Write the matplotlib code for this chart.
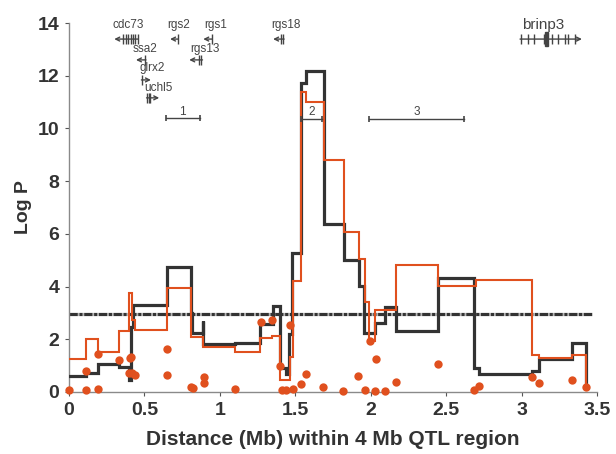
import matplotlib
matplotlib.use("Agg")
import matplotlib.pyplot as plt
import numpy as np

plt.rcParams['font.family'] = ['Liberation Sans', 'DejaVu Sans']

# ---------------- data ----------------
# black (dark) step series: edges (Mb) and values (Log P)
black_edges = [0, 0.11, 0.19, 0.33, 0.40, 0.41, 0.426, 0.647, 0.806, 0.815, 0.885, 0.89,
               1.10, 1.265, 1.35, 1.40, 1.44, 1.46, 1.48, 1.535, 1.574, 1.69, 1.82, 1.92,
               1.956, 2.026, 2.093, 2.166, 2.445, 2.687, 2.716, 3.07, 3.116, 3.336, 3.43]
black_vals = [0.61, 0.72, 1.05, 0.95, 0.45, 2.48, 3.3, 4.73, 3.0, 2.22, 2.69, 1.82,
              1.87, 2.58, 3.27, 0.92, 0.68, 2.2, 5.27, 11.71, 12.17, 6.37, 5.0, 4.02,
              2.24, 2.6, 3.22, 2.31, 4.34, 0.9, 0.67, 0.8, 1.26, 1.87, 0.15]

# orange step series
orange_edges = [0, 0.11, 0.195, 0.33, 0.40, 0.42, 0.437, 0.65, 0.806, 0.89, 1.10, 1.265,
                1.345, 1.40, 1.465, 1.486, 1.538, 1.574, 1.69, 1.82, 1.92, 1.96, 1.99,
                2.03, 2.165, 2.445, 2.70, 3.07, 3.116, 3.336, 3.43]
orange_vals = [1.25, 2.0, 1.5, 2.32, 3.74, 2.74, 2.36, 3.96, 2.1, 1.72, 1.53, 2.06,
               2.14, 0.47, 1.34, 4.22, 11.37, 10.99, 8.82, 6.08, 5.03, 3.43, 1.95,
               3.11, 4.82, 4.03, 4.25, 1.40, 1.30, 1.40, 0.15]

# single-marker points
dot_x = [0.0, 0.11, 0.11, 0.19, 0.19, 0.33, 0.404, 0.41, 0.40, 0.42, 0.44, 0.647, 0.647,
         0.806, 0.823, 0.894, 0.894, 1.10, 1.27, 1.344, 1.397, 1.464, 1.41, 1.437, 1.486,
         1.535, 1.574, 1.685, 1.817, 1.919, 1.96, 1.993, 2.033, 2.026, 2.097, 2.166,
         2.446, 2.684, 2.715, 3.07, 3.115, 3.333, 3.43]
dot_y = [0.07, 0.8, 0.07, 1.45, 0.1, 1.21, 1.28, 1.32, 0.71, 0.72, 0.64, 1.62, 0.63,
         0.18, 0.14, 0.58, 0.35, 0.1, 2.64, 2.73, 1.0, 2.54, 0.07, 0.07, 0.1,
         0.29, 0.67, 0.18, 0.04, 0.61, 0.07, 1.93, 1.25, 0.04, 0.04, 0.37,
         1.07, 0.07, 0.24, 0.58, 0.35, 0.47, 0.18]

threshold = 2.96
threshold_span = [0, 3.47]

# genes: name, start, end, strand, row y, exon positions, label x, label y
gene_names  = ['cdc73', 'rgs2', 'rgs1', 'rgs18', 'ssa2', 'rgs13', 'glrx2', 'uchl5', 'brinp3']
gene_start  = [0.30, 0.67, 0.89, 1.353, 0.444, 0.797, 0.48, 0.514, 2.99]
gene_end    = [0.46, 0.724, 0.95, 1.426, 0.51, 0.885, 0.543, 0.598, 3.40]
gene_strand = [-1, -1, -1, -1, -1, -1, 1, 1, 1]
gene_row    = [13.39, 13.39, 13.39, 13.39, 12.6, 12.6, 11.84, 11.16, 13.39]
gene_exons  = [[0.36, 0.375, 0.39, 0.41, 0.425, 0.44, 0.455],
               [0.72], [0.945], [1.405, 1.42], [0.505], [0.86, 0.875],
               [0.485], [0.52, 0.53, 0.54],
               [2.995, 3.04, 3.08, 3.15, 3.16, 3.17, 3.20, 3.24, 3.29, 3.31, 3.355]]
label_x     = [0.393, 0.724, 0.97, 1.44, 0.503, 0.90, 0.554, 0.59, 3.14]
label_y     = [13.92, 13.92, 13.92, 13.92, 13.0, 13.0, 12.28, 11.52, 13.92]
label_size  = [8.5, 8.5, 8.5, 8.5, 8.5, 8.5, 8.5, 8.5, 11]

# intervals
interval_names = ['1', '2', '3']
interval_start = [0.64, 1.54, 1.99]
interval_end   = [0.867, 1.68, 2.62]
interval_y     = [10.38, 10.36, 10.36]

x_ticks = [0, 0.5, 1, 1.5, 2, 2.5, 3, 3.5]
x_tick_labels = ['0', '0.5', '1', '1.5', '2', '2.5', '3', '3.5']
y_ticks = [0, 2, 4, 6, 8, 10, 12, 14]
x_label = 'Distance (Mb) within 4 Mb QTL region'
y_label = 'Log P'

# ---------------- plot ----------------
DARK = '#333333'
ORANGE = '#e0501e'
GREY = '#444444'

fig = plt.figure(figsize=(6.16, 4.54), dpi=100)
ax = fig.add_axes([69/616, 1 - 392/454, (597-69)/616, (392-23)/454])

# threshold
ax.plot(threshold_span, [threshold, threshold], color=DARK, lw=2.3,
        dashes=[2.6, 0.5, 1.0, 0.5], gapcolor='#b5b5b5', zorder=2)

ax.step(black_edges, black_vals, where='post', color=DARK, lw=2.3, zorder=3,
        solid_joinstyle='miter')
ax.step(orange_edges, orange_vals, where='post', color=ORANGE, lw=1.5, zorder=4,
        solid_joinstyle='miter')

ax.scatter(dot_x, dot_y, s=36, color=ORANGE, zorder=5, clip_on=False, linewidths=0)

# genes
for name, s, e, st, yr, ex, lx, ly, fs in zip(gene_names, gene_start, gene_end, gene_strand,
                                              gene_row, gene_exons, label_x, label_y, label_size):
    if st < 0:
        tail, head = e, s
    else:
        tail, head = s, e
    ax.annotate('', xy=(head, yr), xytext=(tail, yr),
                arrowprops=dict(arrowstyle='->', lw=1.0, color=GREY,
                                shrinkA=0, shrinkB=0, mutation_scale=7), zorder=6)
    ax.vlines(ex, yr - 0.2, yr + 0.2, color=GREY, lw=1.0, zorder=6)
    ax.text(lx, ly, name, ha='center', va='center', fontsize=fs, color=GREY, zorder=6)

# brinp3 thick block
ax.add_patch(plt.Rectangle((3.153, 13.39 - 0.25), 0.025, 0.5, color=GREY, zorder=6))

# intervals
for nm, s, e, yv in zip(interval_names, interval_start, interval_end, interval_y):
    ax.plot([s, e], [yv, yv], color=GREY, lw=1.0, zorder=6)
    ax.plot([s, e], [yv, yv], ls='none', marker='|', ms=4, mew=1.2, color=GREY, zorder=6)
    ax.text((s + e) / 2, yv + 0.25, nm, ha='center', va='center', fontsize=8.5,
            color=GREY, zorder=6)

ax.set_xlim(0, 3.5)
ax.set_ylim(0, 14)
ax.set_xticks(x_ticks)
ax.set_xticklabels(x_tick_labels)
ax.set_yticks(y_ticks)
for sp in ['top', 'right']:
    ax.spines[sp].set_visible(False)
for sp in ['left', 'bottom']:
    ax.spines[sp].set_color('#8a8a8a')
    ax.spines[sp].set_linewidth(1.0)
ax.tick_params(axis='both', direction='out', length=3, width=0.8, color='#555555',
               labelsize=14, labelcolor=DARK, pad=4)
for lab in ax.get_xticklabels() + ax.get_yticklabels():
    lab.set_fontweight('bold')

ax.set_xlabel(x_label, fontsize=15, fontweight='bold', color=DARK, labelpad=8)
ax.set_ylabel(y_label, fontsize=14, fontweight='bold', color=DARK, labelpad=4)

fig.savefig('out.png', dpi=100)
